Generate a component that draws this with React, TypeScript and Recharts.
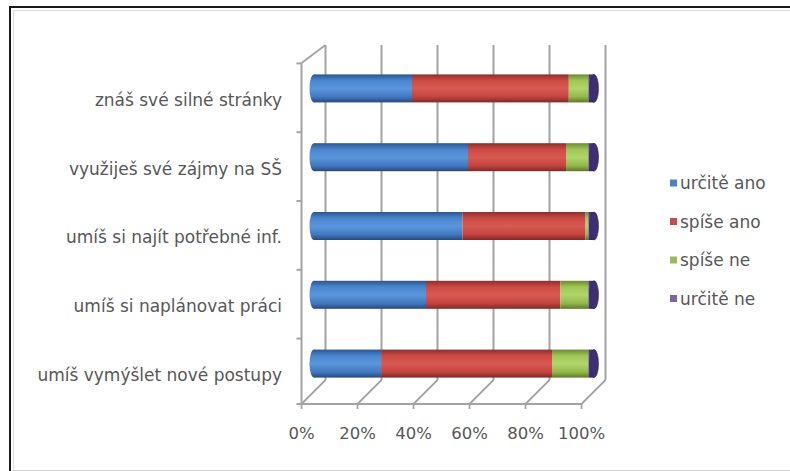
import React from 'react';
import { BarChart, Bar, XAxis, YAxis, Customized } from 'recharts';

// Survey statements (top to bottom)
const categories = [
  'znáš své silné stránky',
  'využiješ své zájmy na SŠ',
  'umíš si najít potřebné inf.',
  'umíš si naplánovat práci',
  'umíš vymýšlet nové postupy',
];

// Answer shares in percent, one value per statement
const urciteAno = [35, 55, 53, 40, 24];
const spiseAno = [56, 35, 44, 48, 61];
const spiseNe = [7, 8, 1, 10, 13];
const urciteNe = [2, 2, 2, 2, 2];

const seriesNames = ['určitě ano', 'spíše ano', 'spíše ne', 'určitě ne'];
const percentTicks = [0, 20, 40, 60, 80, 100];

const data = categories.map((name, i) => ({
  name,
  urciteAno: urciteAno[i],
  spiseAno: spiseAno[i],
  spiseNe: spiseNe[i],
  urciteNe: urciteNe[i],
}));

const SERIES = [
  { key: 'urciteAno', name: seriesNames[0], color: '#4F81BD', stops: ['#2b5690', '#4a85cf', '#5b96dc', '#4279c0', '#27497c'] },
  { key: 'spiseAno', name: seriesNames[1], color: '#C0504D', stops: ['#8e2f2c', '#cc4a44', '#d85a53', '#c4443f', '#7e2a27'] },
  { key: 'spiseNe', name: seriesNames[2], color: '#9BBB59', stops: ['#6c8a30', '#9fc655', '#b0d56a', '#93b84c', '#5d7828'] },
  { key: 'urciteNe', name: seriesNames[3], color: '#8064A2', stops: ['#3d2f6b', '#5a4690', '#6a56a0', '#4f3d85', '#32265a'] },
];

// Chart geometry
const W = 790;
const H = 471;
const PLOT_LEFT = 314;
const PLOT_RIGHT = 594;
const PLOT_TOP = 54.4;
const PLOT_BOTTOM = 398.4;
const X_AXIS_H = 30;
const BAND = (PLOT_BOTTOM - PLOT_TOP) / categories.length;
const X_DOMAIN = [0, 100];

// Pseudo-3D box: front and back planes around the bar plane
const FRONT_DX = -12.5;
const BACK_DX = 11.5;
const WALL_FRONT_TOP = 63;
const FLOOR_FRONT_Y = 404;
const WALL_BACK_TOP = 45;
const FLOOR_BACK_Y = 380;
const FRAME = '#a3a3a3';
const TEXT = '#575757';
const FONT = '"DejaVu Sans", sans-serif';

// Position of a percent value on the bar plane (same linear mapping as the x axis range)
const planeX = (v: number) =>
  PLOT_LEFT + ((v - X_DOMAIN[0]) / (X_DOMAIN[1] - X_DOMAIN[0])) * (PLOT_RIGHT - PLOT_LEFT);

const Defs = () => (
  <defs>
    {SERIES.map((s) => (
      <linearGradient key={s.key} id={`cyl-${s.key}`} x1="0" y1="0" x2="0" y2="1">
        <stop offset="0%" stopColor={s.stops[0]} />
        <stop offset="22%" stopColor={s.stops[1]} />
        <stop offset="50%" stopColor={s.stops[2]} />
        <stop offset="80%" stopColor={s.stops[3]} />
        <stop offset="100%" stopColor={s.stops[4]} />
      </linearGradient>
    ))}
  </defs>
);

const makeCylinder = (seriesIndex: number) => (props: any) => {
  const { x, y, width, height } = props;
  const s = SERIES[seriesIndex];
  const fill = `url(#cyl-${s.key})`;
  const rx = 4.5;
  const ry = height / 2;
  const last = seriesIndex === SERIES.length - 1;
  return (
    <g>
      {seriesIndex === 0 && <ellipse cx={x} cy={y + ry} rx={rx} ry={ry} fill={fill} />}
      <rect x={x} y={y} width={Math.max(width, 0)} height={height} fill={fill} />
      {last && <ellipse cx={x + width} cy={y + ry} rx={rx} ry={ry} fill="#3e2f72" stroke="#2e2358" strokeWidth={0.6} />}
    </g>
  );
};

// Percent label on the front edge of the floor
const PercentTick = (props: any) => {
  const { x, payload } = props;
  return (
    <text x={x + FRONT_DX} y={439} textAnchor="middle" fill={TEXT} fontFamily={FONT} fontSize={16.5}>
      {`${payload.value}%`}
    </text>
  );
};

const CategoryTick = (props: any) => {
  const { y, payload } = props;
  const markY = y - BAND / 2 + 9;
  return (
    <g>
      <line x1={PLOT_LEFT + FRONT_DX - 5} y1={markY} x2={PLOT_LEFT + FRONT_DX} y2={markY} stroke={FRAME} strokeWidth={2} />
      <text x={282} y={y + 11} textAnchor="end" dominantBaseline="central" fill={TEXT} fontFamily={FONT} fontSize={17}>
        {payload.value}
      </text>
    </g>
  );
};

// Left wall, floor, back-wall gridlines and floor diagonals
const BoxFrame = () => {
  const fl = PLOT_LEFT + FRONT_DX;
  const fr = PLOT_RIGHT + FRONT_DX;
  const bl = PLOT_LEFT + BACK_DX;
  const grid = percentTicks.map((t) => {
    const px = planeX(t);
    return { t, fx: px + FRONT_DX, bx: px + BACK_DX };
  });
  return (
    <g>
      {grid.map((g) => (
        <line key={`wall-${g.t}`} x1={g.bx} y1={WALL_BACK_TOP} x2={g.bx} y2={FLOOR_BACK_Y} stroke={FRAME} strokeWidth={2} />
      ))}
      {grid.map((g) => (
        <line key={`floor-${g.t}`} x1={g.fx} y1={FLOOR_FRONT_Y} x2={g.bx} y2={FLOOR_BACK_Y} stroke={FRAME} strokeWidth={1.8} />
      ))}
      {grid.map((g) => (
        <line key={`mark-${g.t}`} x1={g.fx} y1={FLOOR_FRONT_Y} x2={g.fx} y2={FLOOR_FRONT_Y + 5} stroke={FRAME} strokeWidth={1.8} />
      ))}
      <line x1={fl} y1={WALL_FRONT_TOP} x2={fl} y2={FLOOR_FRONT_Y} stroke={FRAME} strokeWidth={2} />
      <line x1={fl} y1={WALL_FRONT_TOP} x2={bl} y2={WALL_BACK_TOP} stroke={FRAME} strokeWidth={1.8} />
      <line x1={fl - 5} y1={FLOOR_FRONT_Y} x2={fr} y2={FLOOR_FRONT_Y} stroke={FRAME} strokeWidth={2} />
    </g>
  );
};

const LegendBlock = () => (
  <g>
    {SERIES.map((s, i) => {
      const cy = 183 + i * 38.5;
      return (
        <g key={s.key}>
          <rect x={670} y={cy - 3.5} width={7} height={7} fill={s.color} />
          <text x={680} y={cy} dominantBaseline="central" fill={TEXT} fontFamily={FONT} fontSize={17}>
            {s.name}
          </text>
        </g>
      );
    })}
  </g>
);

export default function App() {
  return (
    <div style={{ position: 'absolute', left: 0, top: 0, width: W, height: H, background: '#fff', overflow: 'hidden' }}>
      <div style={{ position: 'absolute', left: 9, top: 6, width: W, height: H, borderLeft: '2px solid #1a1a1a', borderTop: '2px solid #1a1a1a' }} />
      <div style={{ position: 'absolute', left: 13, top: 10, width: W, height: 459, borderLeft: '1px solid #dedede', borderTop: '1px solid #dedede', borderBottom: '1px solid #cfcfcf' }} />
      <div style={{ position: 'absolute', left: 0, top: 0 }}>
        <BarChart
          width={W}
          height={H}
          data={data}
          layout="vertical"
          margin={{ top: PLOT_TOP, right: W - PLOT_RIGHT, bottom: H - PLOT_BOTTOM - X_AXIS_H, left: 0 }}
          barSize={28}
        >
          <Customized component={<Defs />} />
          <Customized component={<BoxFrame />} />
          <XAxis
            type="number"
            domain={X_DOMAIN}
            ticks={percentTicks}
            height={X_AXIS_H}
            axisLine={false}
            tickLine={false}
            tick={<PercentTick />}
            interval={0}
          />
          <YAxis
            type="category"
            dataKey="name"
            width={PLOT_LEFT}
            axisLine={false}
            tickLine={false}
            tick={<CategoryTick />}
            interval={0}
          />
          {SERIES.map((s, i) => (
            <Bar
              key={s.key}
              dataKey={s.key}
              name={s.name}
              stackId="a"
              fill={s.color}
              shape={makeCylinder(i)}
              isAnimationActive={false}
            />
          ))}
          <Customized component={<LegendBlock />} />
        </BarChart>
      </div>
    </div>
  );
}
